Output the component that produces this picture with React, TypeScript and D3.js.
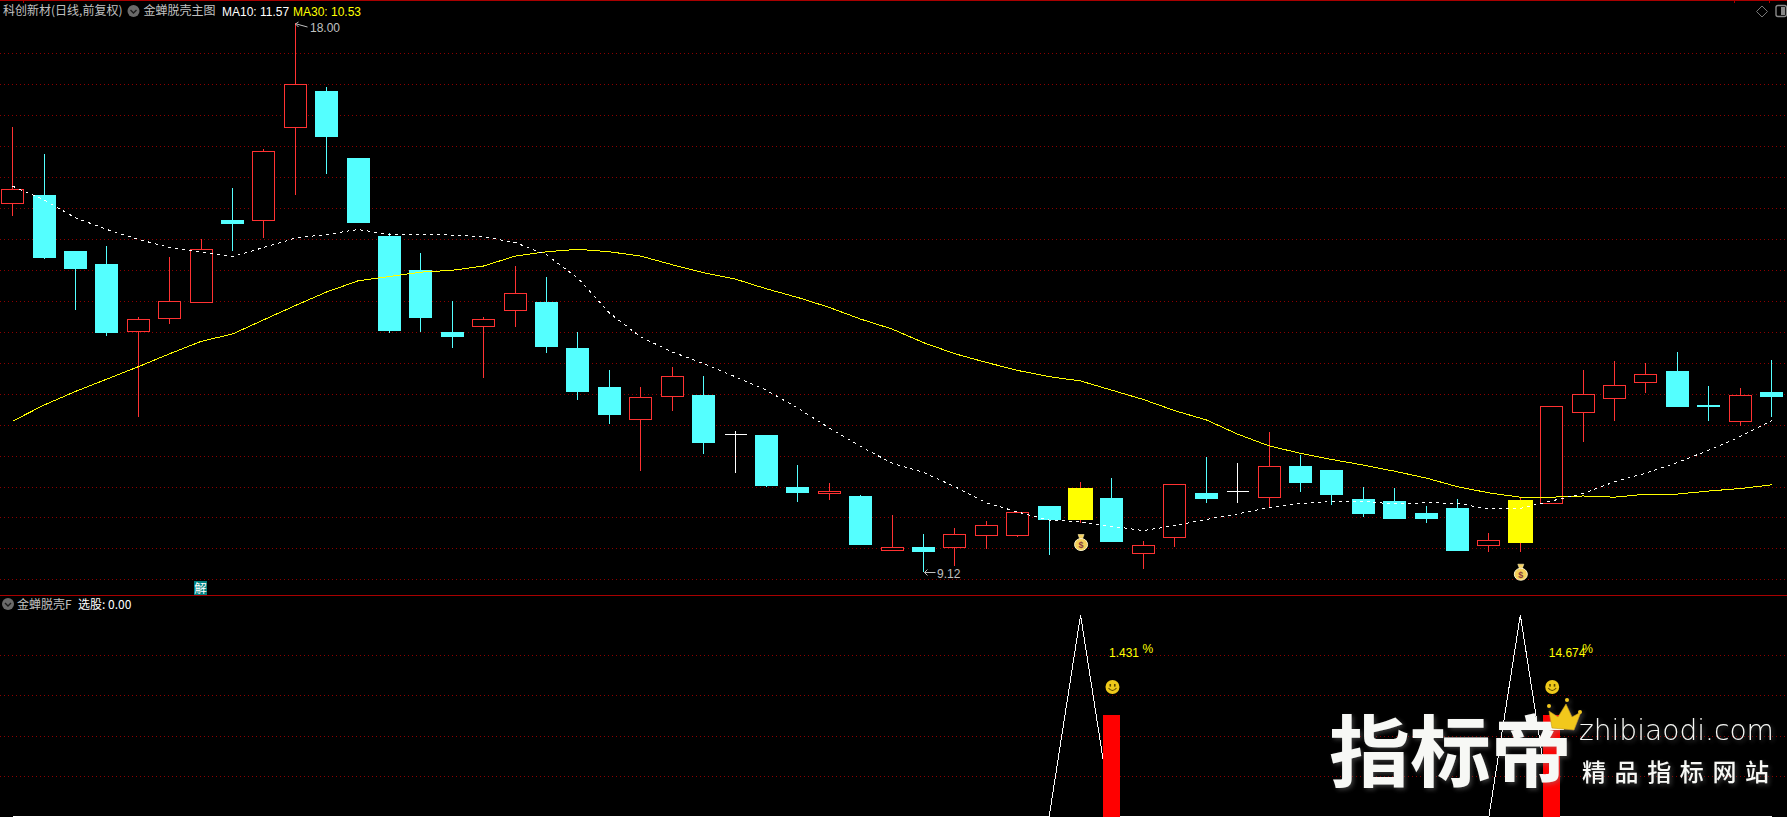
import React from "react";
import * as d3 from "d3";

const WIDTH = 1787;
const HEIGHT = 817;

const title = "科创新材(日线,前复权)";
const mainIndicator = "金蝉脱壳主图";
const subIndicator = "金蝉脱壳F";
const pickLabel = "选股: 0.00";
const ma10Label = "MA10: 11.57";
const ma30Label = "MA30: 10.53";

// Daily prices, left to right
const opens = [15.09,15.22,14.31,14.10,13.02,13.23,13.48,14.81,14.81,16.31,16.90,15.82,14.56,14.01,13.00,13.10,13.36,13.49,12.74,12.11,11.60,11.97,11.98,11.35,11.34,10.50,10.40,10.35,9.47,9.53,9.53,9.72,9.72,10.19,10.48,10.32,9.42,9.69,10.40,10.43,10.34,10.84,10.77,10.30,10.27,10.08,10.16,9.56,10.29,10.23,11.70,11.94,12.20,12.37,11.82,11.57,12.03];
const closes = [15.31,14.20,14.02,12.99,13.21,13.50,14.34,14.75,15.93,17.01,16.16,14.77,13.02,13.23,12.92,13.21,13.64,12.76,12.03,11.66,11.95,12.29,11.20,11.35,10.51,10.40,10.43,9.56,9.52,9.44,9.73,9.88,10.09,9.96,9.96,9.61,9.55,10.54,10.30,10.43,10.84,10.56,10.37,10.06,9.98,9.98,9.46,9.63,9.59,11.80,12.00,12.14,12.32,11.79,11.79,11.98,11.95];
const highs = [16.32,15.88,14.31,14.39,13.24,14.22,14.51,15.33,15.96,18.00,16.97,15.82,14.60,14.28,13.50,13.25,14.07,13.89,13.00,12.39,12.11,12.43,12.29,11.40,11.34,10.85,10.56,10.37,10.04,9.74,9.83,9.95,10.09,10.19,10.58,10.64,9.62,10.54,10.98,10.88,11.39,11.01,10.77,10.50,10.48,10.19,10.30,9.75,10.33,11.80,12.39,12.53,12.50,12.68,12.13,12.10,12.55];
const lows = [14.88,14.19,13.36,12.93,11.62,13.13,13.48,14.32,14.53,15.22,15.56,14.77,12.98,13.00,12.74,12.26,13.09,12.67,11.91,11.51,10.75,11.73,11.03,10.72,10.50,10.26,10.29,9.56,9.47,9.12,9.22,9.49,9.69,9.40,9.92,9.61,9.17,9.53,10.24,10.24,10.17,10.42,10.21,10.01,9.98,9.91,9.46,9.44,9.44,10.23,11.22,11.56,12.02,11.79,11.56,11.48,11.63];
const ma10 = [15.36,15.14,14.85,14.66,14.50,14.37,14.30,14.22,14.37,14.52,14.58,14.66,14.58,14.58,14.57,14.54,14.45,14.25,13.87,13.31,12.92,12.68,12.49,12.28,12.06,11.77,11.45,11.15,10.88,10.73,10.50,10.24,10.09,9.96,9.93,9.86,9.79,9.87,9.97,10.06,10.16,10.23,10.26,10.26,10.22,10.24,10.23,10.14,10.15,10.27,10.39,10.58,10.72,10.89,11.09,11.31,11.57];
const ma30 = [11.56,11.82,12.04,12.24,12.44,12.65,12.85,12.97,13.20,13.43,13.65,13.83,13.90,13.97,14.00,14.07,14.23,14.30,14.34,14.30,14.23,14.09,13.96,13.86,13.70,13.56,13.40,13.21,13.05,12.83,12.65,12.51,12.38,12.28,12.21,12.06,11.91,11.73,11.58,11.35,11.16,11.04,10.94,10.85,10.75,10.64,10.50,10.40,10.33,10.33,10.35,10.33,10.38,10.38,10.43,10.47,10.53];

// Lower panel
const signal = [0,0,0,0,0,0,0,0,0,0,0,0,0,0,0,0,0,0,0,0,0,0,0,0,0,0,0,0,0,0,0,0,0,0,1,0,0,0,0,0,0,0,0,0,0,0,0,0,1,0,0,0,0,0,0,0,0];
const signalDays = [34, 48];
const gainDays = [35, 49];
const gainLabels = ["1.431", "14.674"];
const gainBar = 0.5;
const highMark = { day: 9, label: "18.00" };
const lowMark = { day: 29, label: "9.12" };

const mainGrid = [53,84,115,146,177,208,239,270,301,332,363,394,425,456,487,517,548,579];
const subGrid = [655,695,736,776];

const RED = "#ff3232";
const CYAN = "#54ffff";
const YELLOW = "#ffff00";
const GRID = "#8c0000";
const SEP = "#a80000";
const GREY = "#c0c0c0";
const FONT = "'Liberation Sans', Arial, sans-serif";
const CJK = "'Noto Sans CJK SC', sans-serif";

const days = d3.range(opens.length);
const xScale = d3.scalePoint<number>().domain(days).range([12.6, 1771.6]);
const yScale = d3.scaleLinear().domain([9.12, 18]).range([572, 23]);
const sScale = d3.scaleLinear().domain([0, 1]).range([816.5, 615]);
const X = (i: number) => xScale(i) as number;
const px = (v: number) => Math.floor(v) + 0.5;

const lineMain = d3.line<number>().x((_, i) => X(i)).y((d) => yScale(d));
const lineSub = d3.line<number>().x((_, i) => X(i)).y((d) => sScale(d));

function Chevron({ cx, cy }: { cx: number; cy: number }) {
  return (
    <g>
      <circle cx={cx} cy={cy} r={6} fill="#6a6a6a" />
      <path d={`M${cx - 3},${cy - 1}L${cx},${cy + 2}L${cx + 3},${cy - 1}`} fill="none" stroke="#1c1c1c" strokeWidth={1.4} />
    </g>
  );
}

function Candle({ i }: { i: number }) {
  const o = opens[i], c = closes[i], h = highs[i], l = lows[i];
  const cx = px(X(i));
  const top = Math.round(yScale(Math.max(o, c)));
  const bot = Math.round(yScale(Math.min(o, c)));
  const hy = Math.round(yScale(h));
  const ly = Math.round(yScale(l));
  if (signalDays.includes(i)) {
    return (
      <g shapeRendering="crispEdges">
        <line x1={cx} x2={cx} y1={hy} y2={ly} stroke={RED} />
        <rect x={cx - 12.5} y={top} width={25} height={bot - top} fill={YELLOW} />
      </g>
    );
  }
  if (c > o) {
    return (
      <g shapeRendering="crispEdges">
        <line x1={cx} x2={cx} y1={hy} y2={top} stroke={RED} />
        <line x1={cx} x2={cx} y1={bot} y2={ly} stroke={RED} />
        <rect x={cx - 11} y={top + 0.5} width={22} height={Math.max(bot - top, 1)} fill="#000" stroke={RED} />
      </g>
    );
  }
  if (c === o) {
    return (
      <g shapeRendering="crispEdges">
        <line x1={cx} x2={cx} y1={hy} y2={ly} stroke="#fff" />
        <line x1={cx - 11} x2={cx + 11} y1={top + 0.5} y2={top + 0.5} stroke="#fff" />
      </g>
    );
  }
  return (
    <g shapeRendering="crispEdges">
      <line x1={cx} x2={cx} y1={hy} y2={ly} stroke={CYAN} />
      <rect x={cx - 11.5} y={top} width={23} height={Math.max(bot - top, 1)} fill={CYAN} />
    </g>
  );
}

function MoneyBag({ cx, cy }: { cx: number; cy: number }) {
  return (
    <g>
      <path d={`M${cx - 3},${cy - 8}h6l-1.5,4h-3z`} fill="#f5d060" stroke="#fff2b0" strokeWidth={0.6} />
      <ellipse cx={cx} cy={cy + 2} rx={6.5} ry={6} fill="#f4cf5a" stroke="#fff4c8" strokeWidth={1} />
      <text x={cx} y={cy + 5.5} fontSize={9} fontFamily={FONT} fontWeight="bold" fill="#8a3a3a" textAnchor="middle">$</text>
    </g>
  );
}

function Smiley({ cx, cy }: { cx: number; cy: number }) {
  return (
    <g>
      <circle cx={cx} cy={cy} r={7} fill="#eec91a" />
      <rect x={cx - 3} y={cy - 3} width={1.6} height={2.6} fill="#5a4500" />
      <rect x={cx + 1.5} y={cy - 3} width={1.6} height={2.6} fill="#5a4500" />
      <path d={`M${cx - 4},${cy + 1}Q${cx},${cy + 6} ${cx + 4},${cy + 1}`} fill="none" stroke="#5a4500" strokeWidth={1.1} />
    </g>
  );
}

function Watermark() {
  return (
    <g filter="url(#glow)">
      <text x={1329} y={781} fontSize={78} fontWeight={700} fontFamily={CJK} fill="#f7f8f5" textLength={243} lengthAdjust="spacingAndGlyphs">指标帝</text>
      <path d="M1552,728l-3,-17l9,6l8,-13l6,13l9,-5l-7,18z" fill="#f2c81e" stroke="#c89a10" strokeWidth={0.6} />
      <circle cx={1549} cy={706} r={2} fill="#f2c81e" />
      <circle cx={1567} cy={700} r={2} fill="#f2c81e" />
      <circle cx={1580} cy={712} r={2} fill="#f2c81e" />
      <text x={1579} y={740} fontSize={29} fontFamily="'DejaVu Sans', sans-serif" fontWeight={300} fill="#f7f8f5" textLength={195} lengthAdjust="spacingAndGlyphs">zhibiaodi.com</text>
      <text x={1582} y={781} fontSize={24} fontFamily={CJK} fontWeight={500} fill="#f7f8f5" textLength={187}>精品指标网站</text>
    </g>
  );
}

export default function App() {
  const hx = px(X(highMark.day));
  const hy = yScale(18);
  const lx = px(X(lowMark.day));
  const ly = yScale(9.12);
  return (
    <>
      <style>{`html,body{margin:0;padding:0;background:#000;overflow:hidden}`}</style>
      <svg width={WIDTH} height={HEIGHT} viewBox={`0 0 ${WIDTH} ${HEIGHT}`} style={{ display: "block", position: "absolute", left: 0, top: 0, background: "#000" }}>
        <defs>
          <filter id="glow" x="-5%" y="-10%" width="110%" height="120%">
            <feGaussianBlur in="SourceAlpha" stdDeviation="2" result="b" />
            <feFlood floodColor="#888" floodOpacity="0.4" />
            <feComposite in2="b" operator="in" result="s" />
            <feOffset in="s" dx="2" dy="2" result="o" />
            <feMerge><feMergeNode in="o" /><feMergeNode in="SourceGraphic" /></feMerge>
          </filter>
        </defs>
        <rect width={WIDTH} height={HEIGHT} fill="#000" />

        {/* frame */}
        <g shapeRendering="crispEdges">
          <line x1={0} x2={WIDTH} y1={0.5} y2={0.5} stroke={SEP} />
          <line x1={23.5} x2={23.5} y1={0} y2={3} stroke={SEP} />
          <line x1={1734.5} x2={1734.5} y1={0} y2={3} stroke={SEP} />
          <line x1={1769.5} x2={1769.5} y1={0} y2={3} stroke={SEP} />
          <line x1={0} x2={WIDTH} y1={595.5} y2={595.5} stroke={SEP} />
          {mainGrid.concat(subGrid).map((y) => (
            <line key={y} x1={0} x2={WIDTH} y1={y + 0.5} y2={y + 0.5} stroke={GRID} strokeDasharray="1 3" />
          ))}
        </g>

        {/* candles and averages */}
        {days.map((i) => <Candle key={i} i={i} />)}
        <path d={lineMain(ma30) ?? ""} fill="none" stroke={YELLOW} strokeWidth={1} shapeRendering="crispEdges" />
        <path d={lineMain(ma10) ?? ""} fill="none" stroke="#fff" strokeWidth={1} strokeDasharray="3 4" shapeRendering="crispEdges" />

        {/* extreme price marks */}
        <path d={`M${hx + 12},${hy + 4}L${hx + 1},${hy + 1}M${hx + 3},${hy - 1}L${hx},${hy + 1}L${hx + 3},${hy + 4}`} fill="none" stroke={GREY} />
        <text x={hx + 14.5} y={hy + 9} fontSize={12} fontFamily={FONT} fill={GREY}>{highMark.label}</text>
        <path d={`M${lx + 12},${ly + 0.5}L${lx + 1},${ly + 0.5}M${lx + 4},${ly - 2.5}L${lx + 1},${ly + 0.5}L${lx + 4},${ly + 3.5}`} fill="none" stroke={GREY} />
        <text x={lx + 13.5} y={ly + 6} fontSize={12} fontFamily={FONT} fill={GREY}>{lowMark.label}</text>

        {signalDays.map((d) => <MoneyBag key={d} cx={X(d) + 0.5} cy={yScale(lows[d]) + 20} />)}

        <rect x={194} y={581} width={13} height={14} fill="#008080" />
        <text x={200.5} y={592.5} fontSize={12.5} fontFamily={CJK} fill="#fff" textAnchor="middle">解</text>

        {/* headers */}
        <text x={3} y={15} fontSize={12} fontFamily={CJK} fill={GREY}>{title}</text>
        <Chevron cx={133.5} cy={11} />
        <text x={143.5} y={15} fontSize={12} fontFamily={CJK} fill={GREY}>{mainIndicator}</text>
        <text x={222} y={15.5} fontSize={12} fontFamily={FONT} fill="#fff">{ma10Label}</text>
        <text x={293} y={15.5} fontSize={12} fontFamily={FONT} fill={YELLOW}>{ma30Label}</text>
        <path d="M1762,6L1767.5,11.5L1762,17L1756.5,11.5Z" fill="none" stroke="#777" />
        <rect x={1776} y={5.5} width={10.5} height={11} rx={2} fill="none" stroke="#888" strokeWidth={1.4} />
        <rect x={1781} y={7} width={4} height={8} fill="#888" />

        <Chevron cx={8} cy={604} />
        <text x={17} y={608.5} fontSize={12} fontFamily={CJK} fill={GREY}>{subIndicator}</text>
        <text x={78} y={608.5} fontSize={12} fontFamily={CJK} fill="#fff">{pickLabel}</text>

        {/* lower panel */}
        <path d={lineSub(signal) ?? ""} fill="none" stroke="#fff" strokeWidth={1} shapeRendering="crispEdges" />
        {gainDays.map((d, k) => (
          <g key={d}>
            <rect x={Math.round(X(d) - 8.5)} y={sScale(gainBar) - 1} width={17} height={HEIGHT - sScale(gainBar) + 1} fill="#ff0000" shapeRendering="crispEdges" />
            <Smiley cx={X(d) + 0.5} cy={687} />
            <text x={X(d) - 3} y={657} fontSize={12} fontFamily={FONT} fill={YELLOW}>{gainLabels[k]}</text>
            <text x={X(d) + 30.5} y={653} fontSize={12} fontFamily={FONT} fill={YELLOW}>%</text>
          </g>
        ))}
        <Watermark />
      </svg>
    </>
  );
}
